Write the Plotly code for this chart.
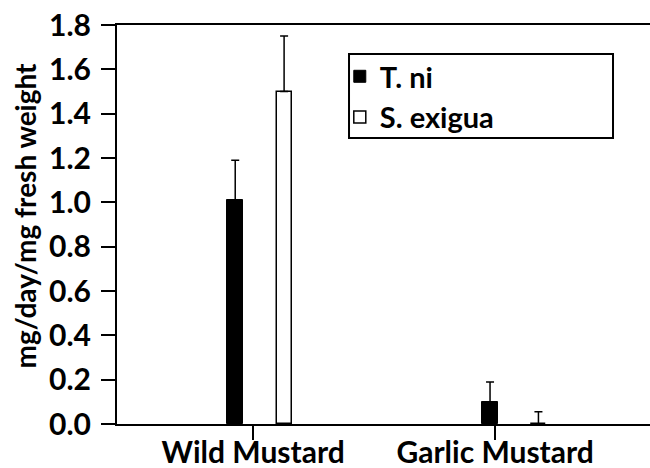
import plotly.graph_objects as go

# Feeding rates of two caterpillar species on two mustard hosts
hosts = ["Wild Mustard", "Garlic Mustard"]
species = ["T. ni", "S. exigua"]
t_ni_mean = [1.01, 0.10]
t_ni_se = [0.18, 0.09]
s_exigua_mean = [1.50, 0.0]
s_exigua_se = [0.25, 0.055]
y_ticks = [0.0, 0.2, 0.4, 0.6, 0.8, 1.0, 1.2, 1.4, 1.6, 1.8]

# Layout: host centres on a numeric axis, bars offset around them
host_pos = [0, 1]
t_ni_offset = [-0.074, -0.021]
s_exigua_offset = [0.128, 0.179]

FONT = "Lato"

fig = go.Figure()

fig.add_trace(go.Bar(
    name=species[0],
    x=[p + o for p, o in zip(host_pos, t_ni_offset)],
    y=t_ni_mean,
    width=0.067,
    marker=dict(color="black", line=dict(color="black", width=1)),
    error_y=dict(type="data", array=t_ni_se, arrayminus=[0, 0], symmetric=False,
                 color="black", thickness=1.5, width=4),
))
fig.add_trace(go.Bar(
    name=species[1],
    x=[p + o for p, o in zip(host_pos, s_exigua_offset)],
    y=s_exigua_mean,
    width=0.062,
    marker=dict(color="white", line=dict(color="black", width=1.5)),
    error_y=dict(type="data", array=s_exigua_se, arrayminus=[0, 0], symmetric=False,
                 color="black", thickness=1.5, width=4),
))

fig.update_layout(
    width=650, height=468,
    margin=dict(l=117, r=0, t=25, b=44, autoexpand=False),
    plot_bgcolor="white", paper_bgcolor="white",
    showlegend=True,
    font=dict(family=FONT, color="black"),
    legend=dict(
        x=0.418, y=0.935, xanchor="left", yanchor="top",
        borderwidth=0, bgcolor="rgba(0,0,0,0)",
        font=dict(family=FONT, size=29, color="black", weight="bold"),
        itemwidth=30, tracegroupgap=0,
    ),
    bargap=0,
)

# Frame around the legend
fig.add_shape(
    type="rect", xref="paper", yref="paper",
    x0=0.4353, x1=0.9306, y0=0.7168, y1=0.9273,
    line=dict(color="black", width=2), fillcolor="rgba(0,0,0,0)", layer="above",
)

fig.update_xaxes(
    range=[-0.5625, 1.64], automargin=False,
    tickmode="array", tickvals=host_pos, ticktext=hosts,
    ticks="outside", ticklen=14, tickwidth=2, tickcolor="black",
    showline=True, linecolor="black", linewidth=2, mirror=True,
    showgrid=False, zeroline=False,
    tickfont=dict(family=FONT, size=30, color="black", weight="bold"),
    ticklabelstandoff=-13,
)
fig.update_yaxes(
    range=[0, 1.8], automargin=False,
    tickmode="array", tickvals=y_ticks, ticktext=[f"{v:.1f}" for v in y_ticks],
    ticks="outside", ticklen=14, tickwidth=2, tickcolor="black",
    showline=True, linecolor="black", linewidth=2,
    showgrid=False, zeroline=False,
    tickfont=dict(family=FONT, size=30, color="black", weight="bold"),
    ticklabelstandoff=4,
)

fig.add_annotation(
    text="mg/day/mg fresh weight",
    xref="paper", yref="paper", x=-0.1726, y=0.5226,
    xanchor="center", yanchor="middle", textangle=-90, showarrow=False,
    font=dict(family=FONT, size=28, color="black", weight="bold"),
)

fig.write_html("out.html")
